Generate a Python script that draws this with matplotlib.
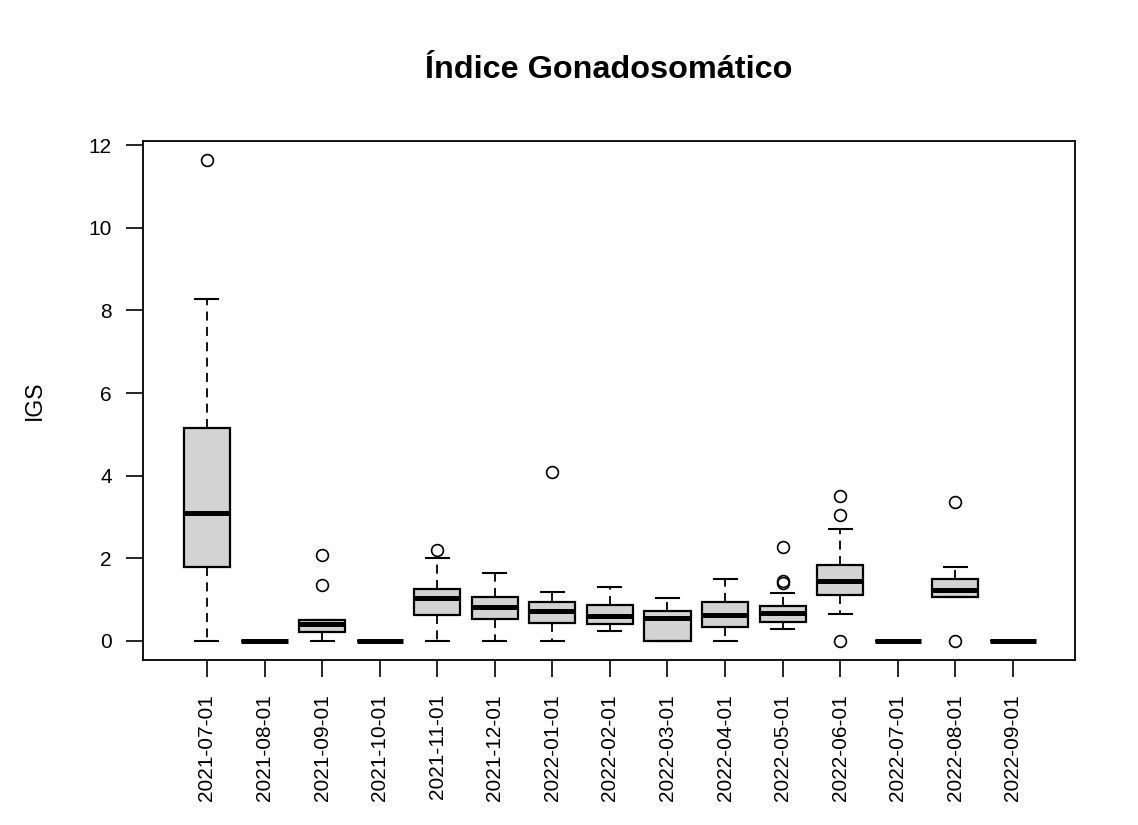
import matplotlib
matplotlib.use("Agg")
import matplotlib.pyplot as plt

plt.rcParams['font.family'] = ['Liberation Sans', 'DejaVu Sans']

# monthly IGS summaries (whisker low, Q1, median, Q3, whisker high, outliers)
meses = ['2021-07-01', '2021-08-01', '2021-09-01', '2021-10-01', '2021-11-01',
         '2021-12-01', '2022-01-01', '2022-02-01', '2022-03-01', '2022-04-01',
         '2022-05-01', '2022-06-01', '2022-07-01', '2022-08-01', '2022-09-01']
bigote_inf = [0.0, 0.0, 0.0, 0.0, 0.0, 0.0, 0.0, 0.24, 0.0, 0.0, 0.28, 0.65, 0.0, 1.06, 0.0]
q1 = [1.80, 0.0, 0.22, 0.0, 0.63, 0.53, 0.44, 0.40, 0.0, 0.35, 0.47, 1.11, 0.0, 1.06, 0.0]
mediana = [3.10, 0.0, 0.40, 0.0, 1.05, 0.82, 0.73, 0.61, 0.55, 0.63, 0.68, 1.45, 0.0, 1.24, 0.0]
q3 = [5.15, 0.0, 0.52, 0.0, 1.26, 1.06, 0.95, 0.87, 0.73, 0.95, 0.85, 1.84, 0.0, 1.49, 0.0]
bigote_sup = [8.28, 0.0, 0.52, 0.0, 2.02, 1.65, 1.19, 1.31, 1.03, 1.49, 1.15, 2.71, 0.0, 1.78, 0.0]
atipicos = [[11.65], [], [2.08, 1.35], [], [2.20], [], [4.10], [], [], [],
            [2.28, 1.45, 1.40], [3.50, 3.05, 0.0], [], [3.37, 0.0], []]

stats = []
for i in range(len(meses)):
    stats.append({'whislo': bigote_inf[i], 'q1': q1[i], 'med': mediana[i],
                  'q3': q3[i], 'whishi': bigote_sup[i], 'fliers': atipicos[i]})

fig = plt.figure(figsize=(11.38, 8.25), dpi=100)
ax = fig.add_axes([0.1257, 0.2, 0.819, 0.629])

ax.bxp(stats, positions=range(1, len(meses) + 1), widths=0.8, patch_artist=True,
       boxprops=dict(facecolor='#d3d3d3', edgecolor='black', linewidth=1.6),
       medianprops=dict(color='black', linewidth=3.6, solid_capstyle='butt'),
       whiskerprops=dict(color='black', linewidth=1.3, linestyle=(0, (5, 3.5))),
       capprops=dict(color='black', linewidth=1.5),
       capwidths=0.4,
       flierprops=dict(marker='o', markerfacecolor='none', markeredgecolor='black',
                       markersize=8.5, markeredgewidth=1.2))

ax.set_xlim(-0.11, 16.08)
ax.set_ylim(-0.46, 12.1)
ax.set_yticks([0, 2, 4, 6, 8, 10, 12])
ax.set_xticks(range(1, len(meses) + 1))
ax.set_xticklabels(meses, rotation=90)
ax.tick_params(axis='both', direction='out', length=12.5, width=1.2,
               labelsize=15, pad=10, colors='black')
ax.tick_params(axis='x', pad=12)
for s in ax.spines.values():
    s.set_linewidth(1.3)

fig.text(34 / 1138, 0.515, 'IGS', rotation=90, ha='center', va='center', fontsize=16.5)
fig.text(0.535, 0.9055, 'Índice Gonadosomático', ha='center', va='baseline',
         fontsize=23.3, fontweight='bold')

fig.savefig('out.png', dpi=100)
